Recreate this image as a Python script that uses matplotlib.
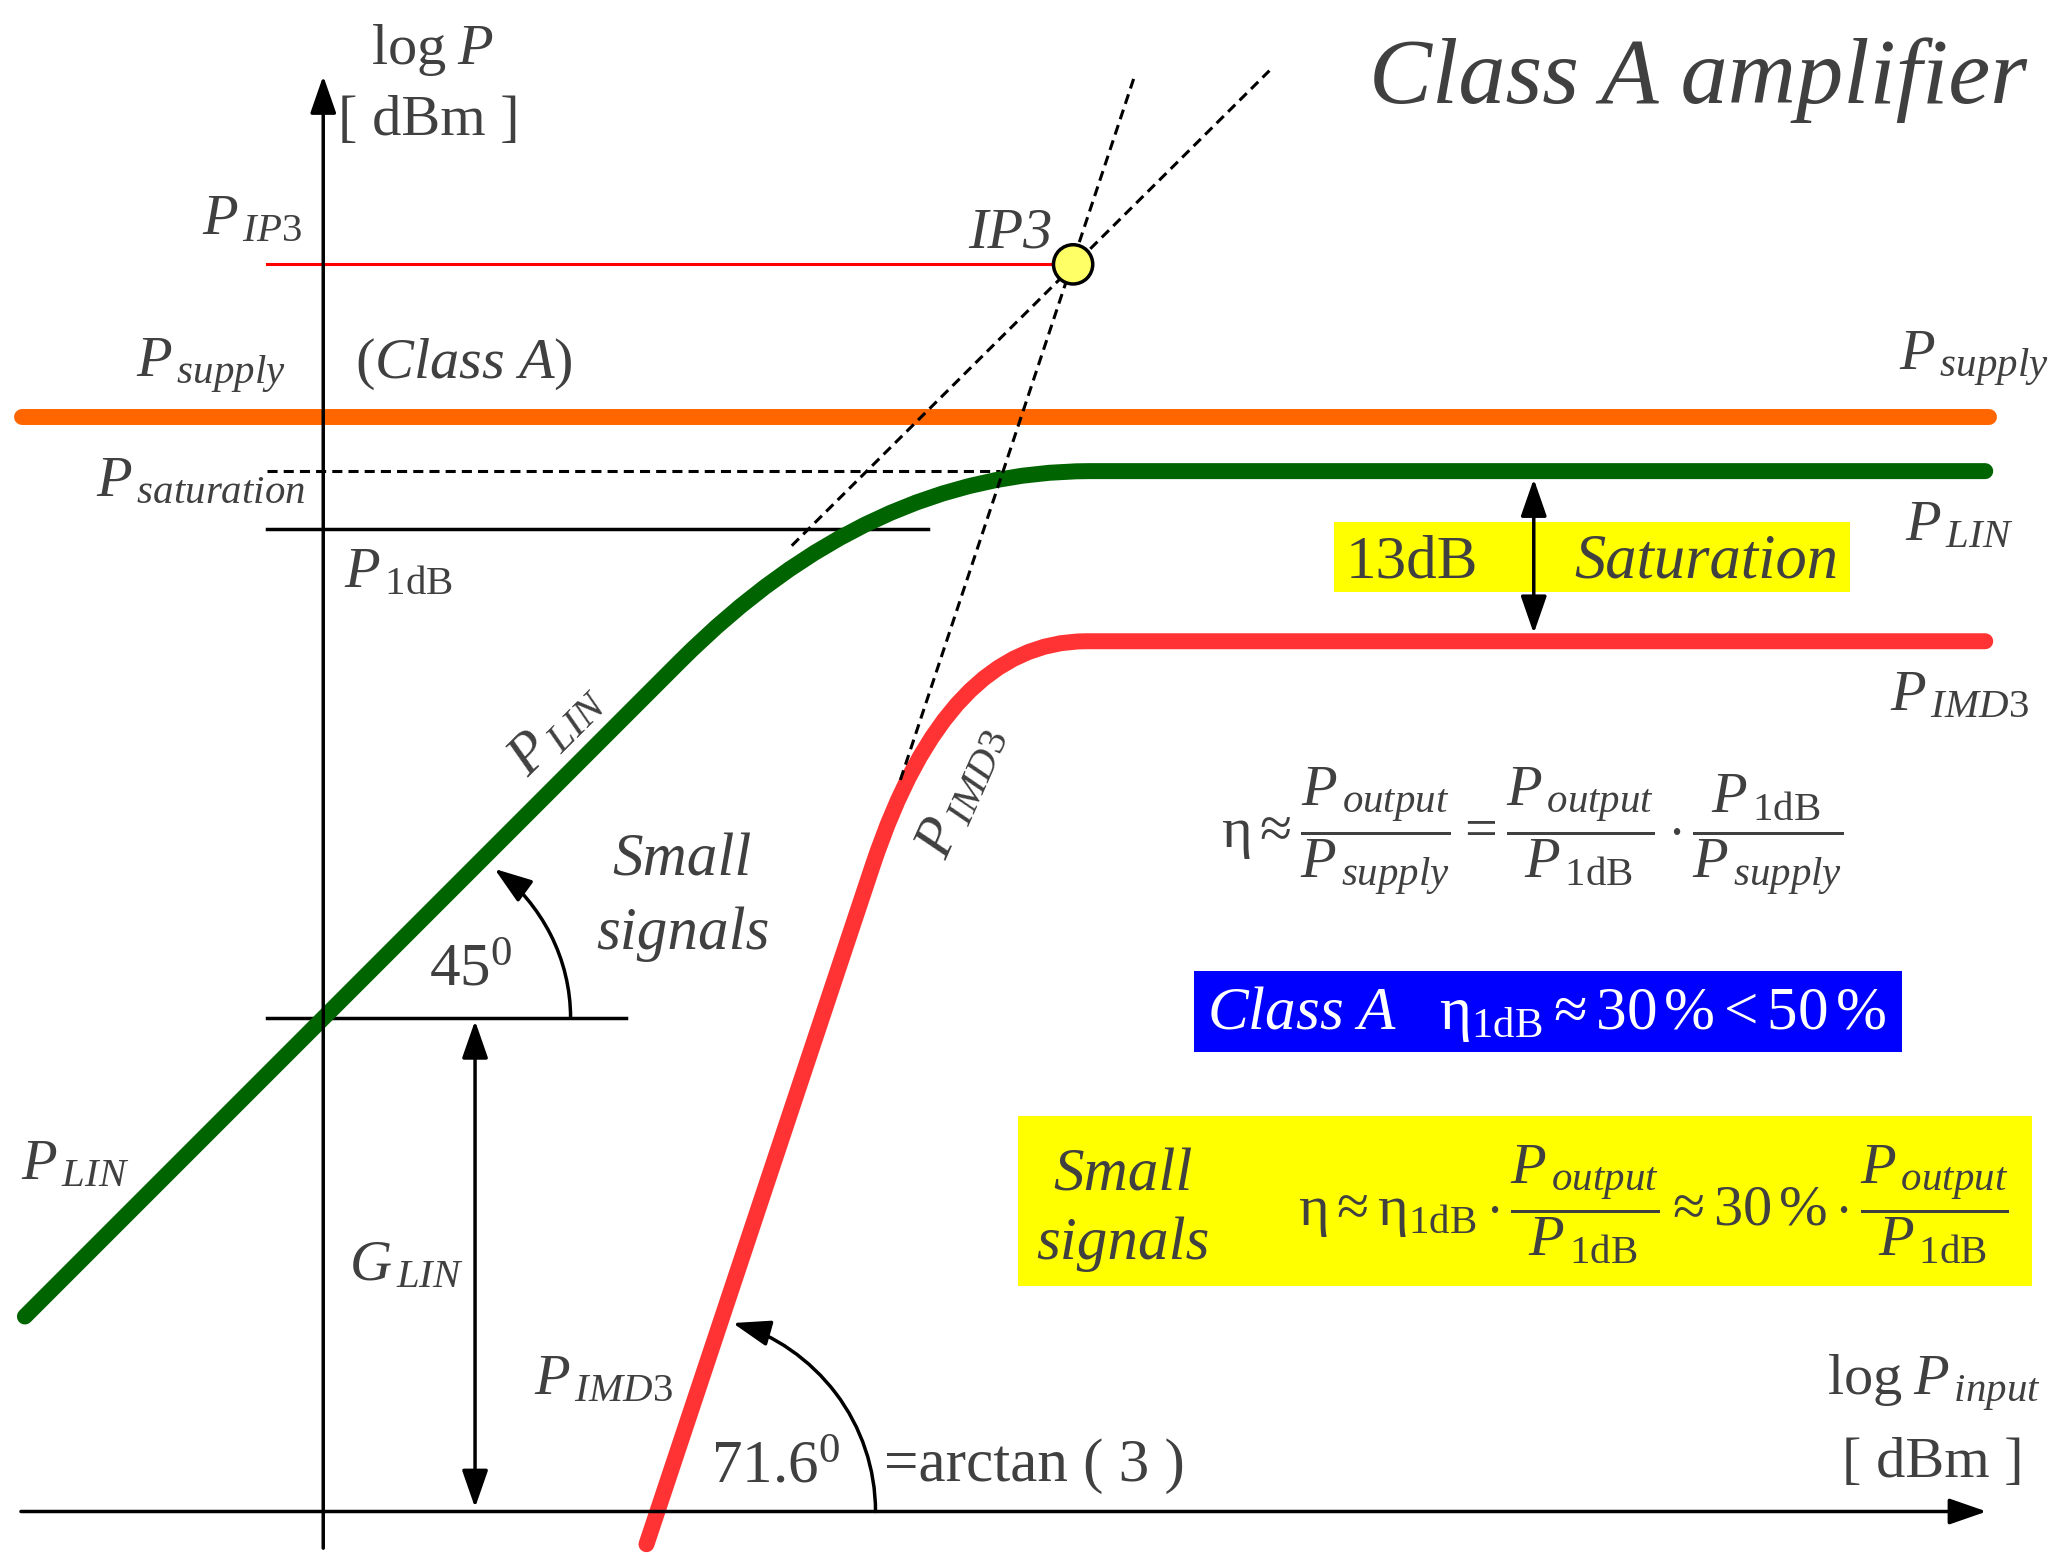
import matplotlib.pyplot as plt
from matplotlib.path import Path
from matplotlib.patches import PathPatch, FancyArrowPatch, Rectangle, Circle
from matplotlib.transforms import Affine2D

plt.rcParams['font.family'] = ['Liberation Serif', 'DejaVu Serif']
plt.rcParams['mathtext.fontset'] = 'custom'
plt.rcParams['mathtext.rm'] = 'Liberation Serif'
plt.rcParams['mathtext.it'] = 'Liberation Serif:italic'
plt.rcParams['mathtext.bf'] = 'Liberation Serif:bold'

TXT = '#404040'
ORANGE = '#FF6600'
GREEN = '#006400'
RED = '#FF3333'

# power levels (dB scale of the sketch), input on x, output on y
gain_lin = 37.7
p_supply = 83.6
p_sat = 79.5
p_1db = 75.1
p_ip3 = 95.3
ip3_in = 57.3

# P_LIN: 45 deg straight part, knee corner, flat saturation
lin_x = [-22.8, 27.3, 41.8, 58.6, 127.0]
lin_y = [14.9, 65.0, 79.5, 79.5, 79.5]
# P_IMD3: 3:1 straight part, knee corner, flat (13 dB below P_LIN)
imd_x = [24.7, 42.0, 47.7, 58.3, 127.0]
imd_y = [-2.5, 49.4, 66.5, 66.5, 66.5]
supply_x = [-23.0, 127.3]

# dashed asymptotes meeting at IP3
asym1_x, asym1_y = [35.8, 72.3], [73.8, 110.1]
asym3_x, asym3_y = [44.1, 62.0], [55.9, 109.7]

# reference lines start just left of the y axis
ref_left = -4.3
psat_right = 51.7
p1db_right = 46.2
glin_right = 23.1

fig = plt.figure(figsize=(20.52, 15.56), dpi=100)
ax = fig.add_axes([0, 0, 1, 1])
ax.set_xlim(-24.70, 132.10)
ax.set_ylim(-3.40, 115.50)
ax.axis('off')


def arrow(p0, p1, style='-|>', z=4):
    ax.add_patch(FancyArrowPatch(p0, p1, arrowstyle=style + ',head_length=1.15,head_width=0.4',
                                 mutation_scale=20, lw=2.5, color='black',
                                 shrinkA=0, shrinkB=0, zorder=z))


def arc_arrow(cx, cy, r, a0, a1):
    path = Affine2D().scale(r).translate(cx, cy).transform_path(Path.arc(a0, a1))
    ax.add_patch(FancyArrowPatch(path=path, arrowstyle='-|>,head_length=1.15,head_width=0.4',
                                 mutation_scale=20, lw=2.5, color='black', zorder=4))


def label(x, y, s, size=42, **kw):
    kw.setdefault('ha', 'left')
    kw.setdefault('va', 'baseline')
    kw.setdefault('color', TXT)
    ax.text(x, y, s, fontsize=size, zorder=6, **kw)


# axes
arrow((0, -2.8), (0, 109.7))
arrow((-23.1, 0), (127.1, 0))

# thin reference lines
ax.plot([ref_left, ip3_in - 1.5], [p_ip3, p_ip3], color='red', lw=2.2, zorder=2)
ax.plot([ref_left, psat_right], [p_sat, p_sat], color='black', lw=2.2,
        linestyle=(0, (3.3, 2.0)), zorder=2)
ax.plot([ref_left, p1db_right], [p_1db, p_1db], color='black', lw=2.5, zorder=2)
ax.plot([ref_left, glin_right], [gain_lin, gain_lin], color='black', lw=2.5, zorder=2)

# thick curves
ax.plot(supply_x, [p_supply, p_supply], color=ORANGE, lw=11.5,
        solid_capstyle='round', zorder=3)
codes = [Path.MOVETO, Path.LINETO, Path.CURVE3, Path.CURVE3, Path.LINETO]
for xs, ys, col in [(lin_x, lin_y, GREEN), (imd_x, imd_y, RED)]:
    ax.add_patch(PathPatch(Path(list(zip(xs, ys)), codes), fill=False, edgecolor=col,
                           lw=11.5, capstyle='round', joinstyle='round', zorder=3))

# extrapolations through IP3
for xs, ys in [(asym1_x, asym1_y), (asym3_x, asym3_y)]:
    ax.plot(xs, ys, color='black', lw=2.2, linestyle=(0, (3.3, 2.0)), zorder=4)
ax.add_patch(Circle((ip3_in, p_ip3), 1.5, facecolor='#FFFF66', edgecolor='black',
                    lw=2.5, zorder=5))

# gain and saturation gaps
arrow((11.6, 0.3), (11.6, gain_lin - 0.2), style='<|-|>')
arrow((92.5, p_sat - 13 + 0.6), (92.5, p_sat - 0.6), style='<|-|>')

# slope angles
arc_arrow(4.8, gain_lin, 14.1, 0, 54)
arc_arrow(27.24, 0, 14.96, 0, 74.3)

# boxes
ax.add_patch(Rectangle((77.2, 70.3), 39.5, 5.3, facecolor='#FFFF00', edgecolor='none', zorder=1))
ax.add_patch(Rectangle((66.5, 35.1), 54.1, 6.2, facecolor='#0000FF', edgecolor='none', zorder=1))
ax.add_patch(Rectangle((53.1, 17.25), 77.5, 13.0, facecolor='#FFFF00', edgecolor='none', zorder=1))

# title
label(130.2, 107.6, 'Class A amplifier', size=68, style='italic', ha='right')

# axis captions
label(8.3, 110.6, r'$\mathrm{log}\;P$', ha='center')
label(8.1, 105.2, '[ dBm ]', ha='center')
label(131.2, 8.9, r'$\mathrm{log}\;P_{\,input}$', ha='right')
label(123.0, 2.65, '[ dBm ]', ha='center')

# level labels on the left
label(-1.6, 97.6, r'$P_{\,IP3}$', ha='right')
label(55.7, 96.6, 'IP3', style='italic', ha='right')
label(-2.85, 86.7, r'$P_{\,supply}$', ha='right')
label(2.4, 86.6, r'$(\mathit{Class\ A})$')
label(-1.4, 77.6, r'$P_{\,saturation}$', ha='right')
label(1.6, 70.6, r'$P_{\,\mathrm{1dB}}$')
label(10.7, 17.7, r'$G_{\,LIN}$', ha='right')
label(-23.1, 25.4, r'$P_{\,LIN}$')

# curve labels
label(17.8, 59.7, r'$P_{\,LIN}$', ha='center', va='center', rotation=45, rotation_mode='anchor')
label(48.8, 55.0, r'$P_{\,IMD3}$', ha='center', va='center', rotation=66, rotation_mode='anchor')
label(26.7, 9.0, r'$P_{\,IMD3}$', ha='right')
label(120.4, 87.2, r'$P_{\,supply}$')
label(120.9, 74.2, r'$P_{\,LIN}$')
label(119.7, 61.2, r'$P_{\,IMD3}$')

# angles
label(27.4, 48.6, 'Small', style='italic', ha='center', size=44)
label(27.5, 43.0, 'signals', style='italic', ha='center', size=44)
label(8.1, 40.2, r'$45^{0}$', size=44)
label(29.6, 2.2, r'$71.6^{0}$', size=44)
label(42.85, 2.3, '=arctan ( 3 )', size=44)

# saturation gap box
label(78.1, 71.4, '13dB', size=44)
label(95.6, 71.4, 'Saturation', size=45, style='italic')

# efficiency
label(92.4, 52.0,
      r'$\mathrm{η}\approx\dfrac{P_{\,output}}{P_{\,supply}}=\dfrac{P_{\,output}}{P_{\,\mathrm{1dB}}}'
      r'\cdot\dfrac{P_{\,\mathrm{1dB}}}{P_{\,supply}}$', ha='center', va='center')
label(67.5, 36.9, r'$\mathit{Class\ A}\ \ \ \mathrm{η}_{\mathrm{1dB}}\approx 30\,\%<50\,\%$',
      size=44, color='white')
label(61.1, 24.5, 'Small', style='italic', ha='center', size=44)
label(61.1, 19.3, 'signals', style='italic', ha='center', size=44)
label(101.6, 23.5,
      r'$\mathrm{η}\approx\mathrm{η}_{\mathrm{1dB}}\cdot\dfrac{P_{\,output}}{P_{\,\mathrm{1dB}}}'
      r'\approx 30\,\%\cdot\dfrac{P_{\,output}}{P_{\,\mathrm{1dB}}}$', ha='center', va='center')

fig.savefig('out.png', dpi=100, facecolor='white')
